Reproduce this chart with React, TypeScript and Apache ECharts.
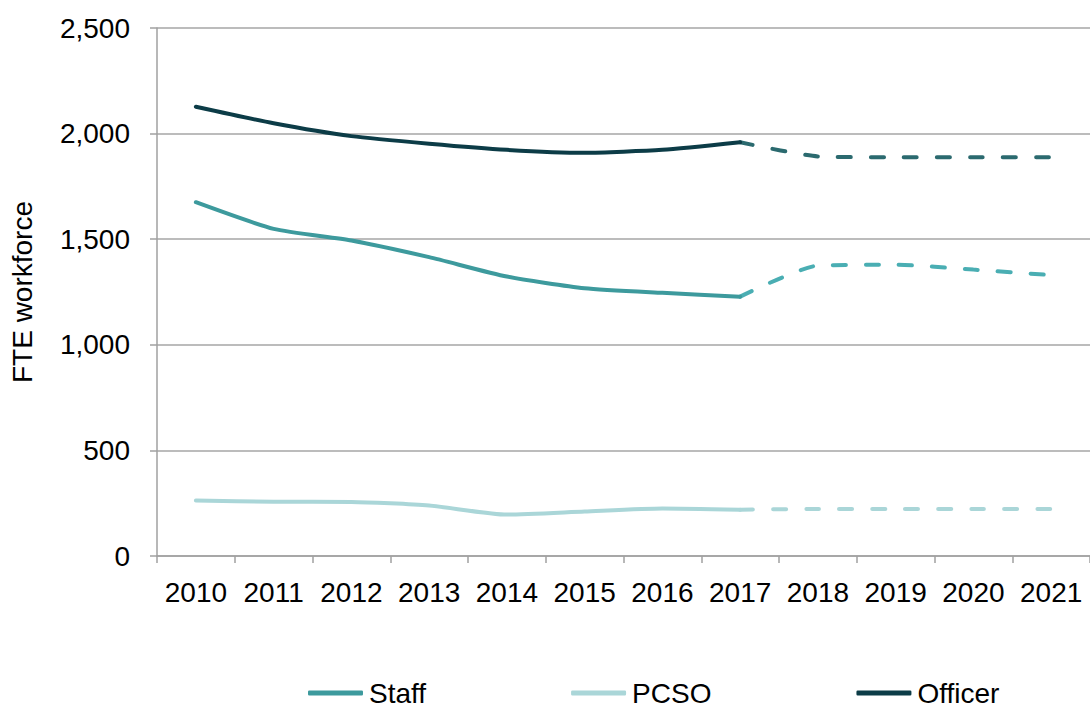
import React, { useEffect, useRef } from "react";
import * as echarts from "echarts";

const years = ["2010", "2011", "2012", "2013", "2014", "2015", "2016", "2017", "2018", "2019", "2020", "2021"];
// Actual (solid) values 2010-2017
const staffActual = [1675, 1549, 1494, 1415, 1323, 1268, 1246, 1228];
const pcsoActual = [263, 257, 256, 239, 196, 211, 225, 219];
const officerActual = [2127, 2049, 1988, 1952, 1923, 1909, 1923, 1959];
// Projected (dashed) values 2017-2021
const staffProjected = [1228, 1375, 1379, 1356, 1330];
const pcsoProjected = [219, 223, 223, 223, 223];
const officerProjected = [1959, 1892, 1888, 1888, 1888];
const yTicks = [0, 500, 1000, 1500, 2000, 2500];

const FONT = "'Liberation Sans', Arial, sans-serif";

const solid = (vals: number[]) => years.map((_, i) => (i < vals.length ? vals[i] : "-"));
const dashed = (vals: number[]) => {
  const start = years.length - vals.length;
  return years.map((_, i) => (i >= start ? vals[i - start] : "-"));
};

export default function App() {
  const ref = useRef<HTMLDivElement>(null);
  useEffect(() => {
    document.body.style.margin = "0";
    const chart = echarts.init(ref.current!, null, { renderer: "svg" });
    const lineSeries = (name: string, data: any[], color: string, dash: boolean, z: number) => ({
      name,
      type: "line",
      data,
      smooth: 0.2,
      symbol: "none",
      showSymbol: false,
      connectNulls: false,
      z,
      itemStyle: { color },
      lineStyle: dash
        ? { color, width: 4, type: [13, 20], cap: "round" }
        : { color, width: 4, cap: "round", join: "round" },
      emphasis: { disabled: true },
    });
    chart.setOption({
      animation: false,
      backgroundColor: "#ffffff",
      textStyle: { fontFamily: FONT },
      grid: { left: 157, top: 28, width: 940, bottom: 153, containLabel: false },
      legend: {
        data: ["Staff", "PCSO", "Officer"],
        left: 303,
        top: 673,
        itemGap: 145,
        itemWidth: 55,
        itemHeight: 5,
        icon: "roundRect",
        textStyle: { fontSize: 28, lineHeight: 30, color: "#000", fontFamily: FONT, padding: [0, 0, 0, 1] },
      },
      xAxis: {
        type: "category",
        data: years,
        boundaryGap: true,
        axisLine: { lineStyle: { color: "#a0a0a0", width: 1.5 } },
        axisTick: { show: true, length: 7, lineStyle: { color: "#a0a0a0", width: 1.5 } },
        axisLabel: { color: "#000", fontSize: 28, margin: 22, interval: 0, fontFamily: FONT },
      },
      yAxis: {
        type: "value",
        min: yTicks[0],
        max: yTicks[yTicks.length - 1],
        interval: 500,
        name: "FTE workforce",
        nameLocation: "middle",
        nameGap: 121,
        nameRotate: 90,
        nameTextStyle: { fontSize: 28, color: "#000", fontFamily: FONT },
        axisLine: { show: true, lineStyle: { color: "#a0a0a0", width: 1.5 } },
        axisTick: { show: true, length: 7, lineStyle: { color: "#a0a0a0", width: 1.5 } },
        splitLine: { lineStyle: { color: "#a6a6a6", width: 1.5 } },
        axisLabel: {
          color: "#000",
          fontSize: 28,
          margin: 27,
          fontFamily: FONT,
          formatter: (v: number) => v.toLocaleString("en-US"),
        },
      },
      series: [
        lineSeries("Staff", solid(staffActual), "#3d9a9d", false, 3),
        lineSeries("PCSO", solid(pcsoActual), "#aad6d8", false, 3),
        lineSeries("Officer", solid(officerActual), "#0c3c47", false, 3),
        lineSeries("Staff", dashed(staffProjected), "#4aaeb3", true, 2),
        lineSeries("PCSO", dashed(pcsoProjected), "#aad6d8", true, 2),
        lineSeries("Officer", dashed(officerProjected), "#2b6a6f", true, 2),
      ],
    });
    return () => chart.dispose();
  }, []);
  return <div ref={ref} style={{ width: 1090, height: 709 }} />;
}
